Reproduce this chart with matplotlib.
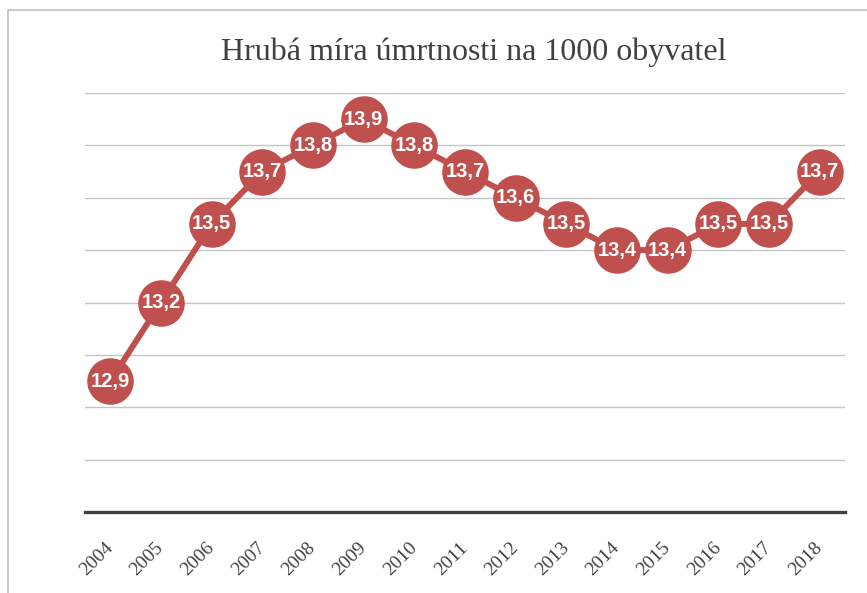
import matplotlib
matplotlib.use("Agg")
import matplotlib.pyplot as plt
from matplotlib.patches import Rectangle

years = [str(y) for y in range(2004, 2019)]
values = [12.9, 13.2, 13.5, 13.7, 13.8, 13.9, 13.8, 13.7, 13.6, 13.5, 13.4, 13.4, 13.5, 13.5, 13.7]
title = "Hrubá míra úmrtnosti na 1000 obyvatel"

red = "#C0504D"
W, H = 867, 593

fig = plt.figure(figsize=(W / 100, H / 100), dpi=100)
ax = fig.add_axes([85 / W, 1 - 512 / H, 760 / W, 419 / H])

x = list(range(len(years)))
ax.plot(x, values, color=red, lw=4.3, marker="o", ms=32.5, mfc=red, mec=red,
        clip_on=False, zorder=3)
for xi, v in zip(x, values):
    ax.text(xi, v, f"{v:.1f}".replace(".", ","), color="white", ha="center",
            va="center", fontsize=14.5, fontweight="bold",
            family="Liberation Sans", zorder=4)

ax.set_xlim(-0.5, len(years) - 0.5)
ax.set_ylim(12.4, 14.0)
ax.set_yticks([12.4 + 0.2 * i for i in range(9)])
ax.yaxis.grid(True, color="#c4c4c4", lw=1)
ax.set_axisbelow(True)
ax.tick_params(axis="y", left=False, labelleft=False)
ax.tick_params(axis="x", length=0, pad=24)
ax.set_xticks(x)
ax.set_xticklabels(years, rotation=45, ha="right", va="center",
                   rotation_mode="anchor", family="Liberation Serif",
                   fontsize=14, color="#404040")
for s in ["left", "right", "top"]:
    ax.spines[s].set_visible(False)
ax.spines["bottom"].set_color("#404040")
ax.spines["bottom"].set_linewidth(2.4)

fig.text(474 / W, 1 - 52 / H, title, ha="center", va="center",
         family="Liberation Serif", fontsize=23, color="#404040")

fig.patches.append(Rectangle((8 / W, -0.1), 1.2, (H - 10) / H + 0.1,
                             transform=fig.transFigure, fill=False,
                             edgecolor="#c0c0c0", lw=1.2))

fig.savefig("out.png", dpi=100)
